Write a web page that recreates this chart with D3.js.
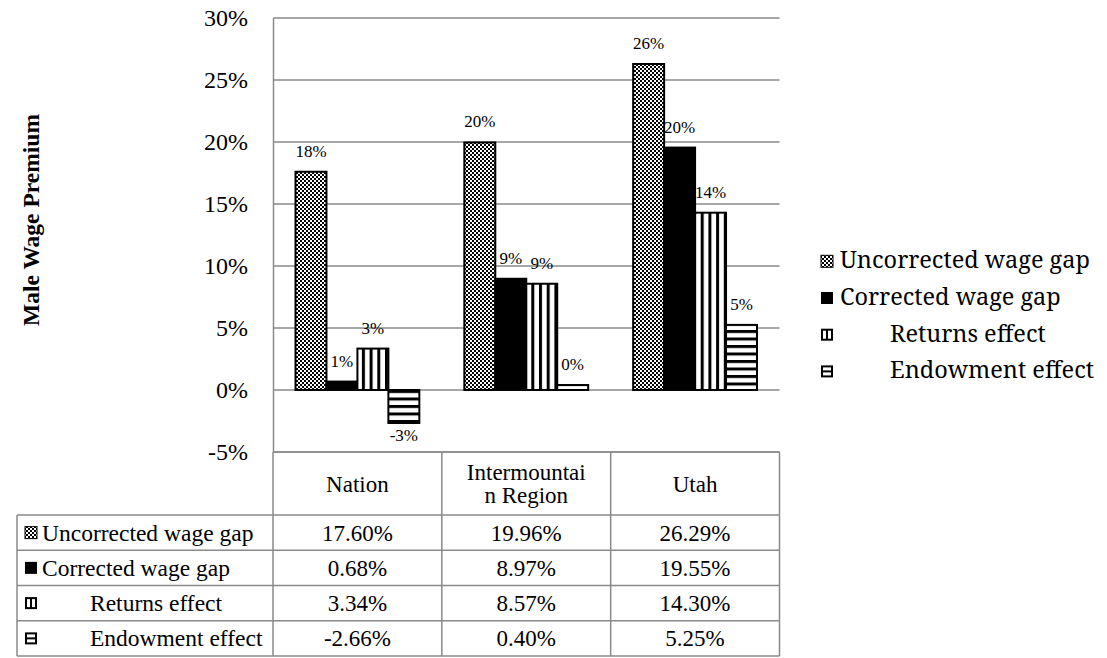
<!DOCTYPE html>
<html>
<head>
<meta charset="utf-8">
<script src="https://cdn.jsdelivr.net/npm/d3@7"></script>
<style>
  body { margin: 0; background: #fff; }
  svg { display: block; }
</style>
</head>
<body>
<div id="chart"></div>
<script>
// chart values
var categories = ["Nation", "Intermountain Region", "Utah"];
var headerLines = [["Nation"], ["Intermountai", "n Region"], ["Utah"]];
var seriesNames = ["Uncorrected wage gap", "Corrected wage gap", "Returns effect", "Endowment effect"];
var uncorrected = [0.1760, 0.1996, 0.2629];
var corrected = [0.0068, 0.0897, 0.1955];
var returnsEffect = [0.0334, 0.0857, 0.1430];
var endowmentEffect = [-0.0266, 0.0040, 0.0525];
var yTicks = [-0.05, 0, 0.05, 0.10, 0.15, 0.20, 0.25, 0.30];

var seriesValues = [uncorrected, corrected, returnsEffect, endowmentEffect];
var serif = "'Liberation Serif', 'Times New Roman', serif";
var gridColor = "#8a8a8a";

var svg = d3.select("#chart").append("svg")
    .attr("width", 1107)
    .attr("height", 658);

var defs = svg.append("defs");

// checker pattern for uncorrected gap
var chk = defs.append("pattern").attr("id", "checker")
    .attr("patternUnits", "userSpaceOnUse").attr("width", 4).attr("height", 4);
chk.append("rect").attr("width", 4).attr("height", 4).attr("fill", "#fff");
chk.append("rect").attr("width", 2).attr("height", 2).attr("fill", "#000");
chk.append("rect").attr("x", 2).attr("y", 2).attr("width", 2).attr("height", 2).attr("fill", "#000");

// vertical stripes for returns effect
var vs = defs.append("pattern").attr("id", "vstripe")
    .attr("patternUnits", "userSpaceOnUse").attr("width", 7.7).attr("height", 10);
vs.append("rect").attr("width", 7.7).attr("height", 10).attr("fill", "#fff");
vs.append("rect").attr("width", 3).attr("height", 10).attr("fill", "#000");

// horizontal stripes for endowment effect
var hs = defs.append("pattern").attr("id", "hstripe")
    .attr("patternUnits", "userSpaceOnUse").attr("width", 10).attr("height", 7.5);
hs.append("rect").attr("width", 10).attr("height", 7.5).attr("fill", "#fff");
hs.append("rect").attr("width", 10).attr("height", 3).attr("fill", "#000");

var fills = ["url(#checker)", "#000", "url(#vstripe)", "url(#hstripe)"];

var x = d3.scaleBand().domain(categories).range([273, 779.5]);
var gap = 22.5;
var x1 = d3.scaleBand().domain(seriesNames).range([gap, x.bandwidth() - gap]);
var y = d3.scaleLinear().domain([-0.05, 0.30]).range([452, 18]);

// gridlines
svg.append("g").selectAll("line").data(yTicks).join("line")
    .attr("x1", x.range()[0]).attr("x2", x.range()[1])
    .attr("y1", d => y(d)).attr("y2", d => y(d))
    .attr("stroke", gridColor).attr("stroke-width", 1.5);

// y axis
var yAxis = d3.axisLeft(y).tickValues(yTicks)
    .tickFormat(d => Math.round(d * 100) + "%")
    .tickSize(0).tickPadding(25);
var ga = svg.append("g").attr("transform", "translate(273,0)").call(yAxis);
ga.attr("font-family", serif);
ga.select(".domain").attr("stroke", gridColor).attr("stroke-width", 1.5);
ga.selectAll("text")
    .attr("font-family", serif).attr("font-size", 24).attr("fill", "#000")
    .attr("dy", "0.33em");

svg.append("text")
    .attr("transform", "translate(39,220) rotate(-90)")
    .attr("text-anchor", "middle")
    .attr("font-family", serif).attr("font-size", 23.5).attr("font-weight", "bold")
    .text("Male Wage Premium");

// bars
var barData = [];
categories.forEach(function (c, i) {
    seriesNames.forEach(function (s, j) {
        barData.push({ cat: c, series: s, idx: j, value: seriesValues[j][i] });
    });
});

svg.append("g").selectAll("rect").data(barData).join("rect")
    .attr("x", d => x(d.cat) + x1(d.series))
    .attr("width", x1.bandwidth())
    .attr("y", d => y(Math.max(0, d.value)))
    .attr("height", d => Math.abs(y(d.value) - y(0)))
    .attr("fill", d => fills[d.idx])
    .attr("stroke", "#000").attr("stroke-width", 2);

// data labels
svg.append("g").selectAll("text").data(barData).join("text")
    .attr("x", d => x(d.cat) + x1(d.series) + x1.bandwidth() / 2)
    .attr("y", d => d.value >= 0 ? y(d.value) - 15 : y(d.value) + 18)
    .attr("text-anchor", "middle")
    .attr("font-family", serif).attr("font-size", 17)
    .text(d => Math.round(d.value * 100) + "%");

// data table
var tableTop = 452, headerBottom = 515, rowH = 35.25;
var tableLeft = 17;
var tbl = svg.append("g");
var rowLines = d3.range(seriesNames.length + 1).map(i => headerBottom + i * rowH);
var tableBottom = rowLines[rowLines.length - 1];

tbl.append("line")
    .attr("x1", x.range()[0]).attr("x2", x.range()[1])
    .attr("y1", tableTop).attr("y2", tableTop)
    .attr("stroke", gridColor).attr("stroke-width", 1.5);
tbl.selectAll("line.row").data(rowLines).join("line").attr("class", "row")
    .attr("x1", tableLeft).attr("x2", x.range()[1])
    .attr("y1", d => d).attr("y2", d => d)
    .attr("stroke", gridColor).attr("stroke-width", 1.5);
var colEdges = categories.map(c => x(c)).concat([x.range()[1]]);
tbl.selectAll("line.col").data(colEdges).join("line").attr("class", "col")
    .attr("x1", d => d).attr("x2", d => d)
    .attr("y1", tableTop).attr("y2", tableBottom)
    .attr("stroke", gridColor).attr("stroke-width", 1.5);
tbl.append("line")
    .attr("x1", tableLeft).attr("x2", tableLeft)
    .attr("y1", headerBottom).attr("y2", tableBottom)
    .attr("stroke", gridColor).attr("stroke-width", 1.5);

// header cells
categories.forEach(function (c, i) {
    var lines = headerLines[i];
    var cy = (tableTop + headerBottom) / 2;
    lines.forEach(function (ln, k) {
        tbl.append("text")
            .attr("x", x(c) + x.bandwidth() / 2)
            .attr("y", cy + 8 + (k - (lines.length - 1) / 2) * 23)
            .attr("text-anchor", "middle")
            .attr("font-family", serif).attr("font-size", 23)
            .text(ln);
    });
});

// legend key drawing, shared by table and legend
function drawKey(g, idx, kx, ky, s) {
    if (idx === 0) {
        g.append("rect").attr("x", kx).attr("y", ky).attr("width", s).attr("height", s)
            .attr("fill", "url(#checker)").attr("stroke", "#000").attr("stroke-width", 1);
    } else if (idx === 1) {
        g.append("rect").attr("x", kx).attr("y", ky).attr("width", s).attr("height", s)
            .attr("fill", "#000");
    } else {
        g.append("rect").attr("x", kx).attr("y", ky).attr("width", s).attr("height", s)
            .attr("fill", "#000");
        var w = (s - 6) / 2;
        [0, 1].forEach(function (k) {
            if (idx === 2) {
                g.append("rect").attr("x", kx + 2 + k * (w + 2)).attr("y", ky + 2)
                    .attr("width", w).attr("height", s - 4).attr("fill", "#fff");
            } else {
                g.append("rect").attr("x", kx + 2).attr("y", ky + 2 + k * (w + 2))
                    .attr("width", s - 4).attr("height", w).attr("fill", "#fff");
            }
        });
    }
}

// data rows
seriesNames.forEach(function (s, j) {
    var top = rowLines[j];
    var base = top + rowH / 2 + 8;
    drawKey(tbl, j, 25, top + rowH / 2 - 6, 12);
    tbl.append("text")
        .attr("x", j < 2 ? 42 : 90)
        .attr("y", base)
        .attr("font-family", serif).attr("font-size", 23.5)
        .text(s);
    categories.forEach(function (c, i) {
        tbl.append("text")
            .attr("x", x(c) + x.bandwidth() / 2)
            .attr("y", base)
            .attr("text-anchor", "middle")
            .attr("font-family", serif).attr("font-size", 23)
            .text((seriesValues[j][i] * 100).toFixed(2) + "%");
    });
});

// legend
var legend = svg.append("g");
seriesNames.forEach(function (s, j) {
    var base = 268.3 + j * 36.7;
    drawKey(legend, j, 821, base - 13, 12);
    legend.append("text")
        .attr("x", j < 2 ? 840 : 890)
        .attr("y", base)
        .attr("font-family", "'Noto Serif', serif").attr("font-size", 23.5)
        .text(s);
});
</script>
</body>
</html>
